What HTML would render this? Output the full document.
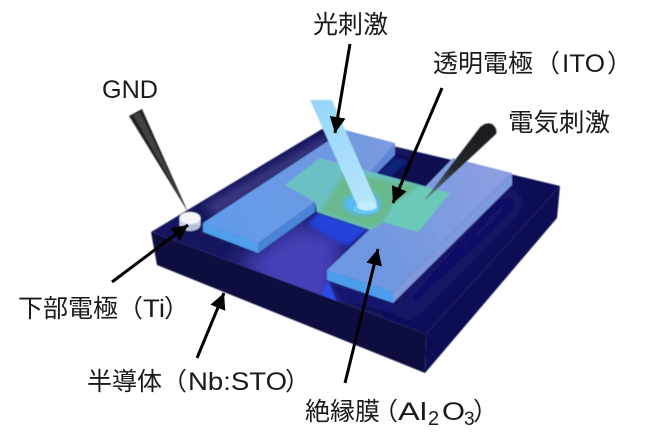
<!DOCTYPE html>
<html><head><meta charset="utf-8"><style>
html,body{margin:0;padding:0;background:#fff;width:650px;height:445px;overflow:hidden}
svg{display:block}
text{font-family:"Noto Sans CJK JP","Liberation Sans",sans-serif;font-size:25px;fill:#1a1a1a}
text.l{font-family:"Liberation Sans",sans-serif}
</style></head><body>
<svg width="650" height="445" viewBox="0 0 650 445" xmlns="http://www.w3.org/2000/svg">
<defs>
<linearGradient id="film" x1="220" y1="260" x2="480" y2="130" gradientUnits="userSpaceOnUse">
<stop offset="0" stop-color="#609ceb"/><stop offset=".55" stop-color="#7298e0"/><stop offset="1" stop-color="#8c9fe0"/></linearGradient>
<linearGradient id="beam" x1="320" y1="100" x2="368" y2="206" gradientUnits="userSpaceOnUse">
<stop offset="0" stop-color="#98d6f9"/><stop offset="1" stop-color="#b6e5fd"/></linearGradient>
<linearGradient id="probe" x1="490" y1="128" x2="423" y2="202" gradientUnits="userSpaceOnUse">
<stop offset="0" stop-color="#1a1a1e"/><stop offset=".55" stop-color="#26282e"/><stop offset="1" stop-color="#62899a"/></linearGradient>
<linearGradient id="sub" x1="160" y1="200" x2="540" y2="260" gradientUnits="userSpaceOnUse">
<stop offset="0" stop-color="#191960"/><stop offset=".5" stop-color="#14145e"/><stop offset="1" stop-color="#0c0c54"/></linearGradient>
<clipPath id="topclip"><polygon points="151,232 322,129 560,186 426,334"/></clipPath>
<filter id="b1" filterUnits="userSpaceOnUse" x="0" y="0" width="650" height="445"><feGaussianBlur stdDeviation=".5"/></filter>
<filter id="b2" filterUnits="userSpaceOnUse" x="0" y="0" width="650" height="445"><feGaussianBlur stdDeviation="2"/></filter>
<filter id="b4" filterUnits="userSpaceOnUse" x="0" y="0" width="650" height="445"><feGaussianBlur stdDeviation="4"/></filter>
<filter id="b8" filterUnits="userSpaceOnUse" x="0" y="0" width="650" height="445"><feGaussianBlur stdDeviation="10"/></filter>
<marker id="ah" markerUnits="userSpaceOnUse" markerWidth="18" markerHeight="16" refX="16" refY="8" orient="auto"><path d="M0 0L16 8L0 16Z" fill="#000"/></marker>
</defs>

<g filter="url(#b1)">
<!-- substrate -->
<polygon points="151,232 426,334 425,373 157,265" fill="#07073f"/>
<polygon points="426,334 560,186 557,218 425,373" fill="#0c0c52"/>
<polygon points="151,232 322,129 560,186 426,334" fill="url(#sub)"/>
<g clip-path="url(#topclip)">
<polygon points="205,205 320,138 335,140 215,218" fill="#38347e" filter="url(#b4)"/>
<polygon points="235,265 295,222 345,232 335,312 290,305" fill="#4440b8" filter="url(#b8)"/>
<polygon points="395,155 453,158 425,187 372,174" fill="#0a0a50"/>
<polygon points="374,176 395,157 410,160 390,178" fill="#10207a" filter="url(#b2)"/>
<polygon points="505,190 395,305 405,322 525,200" fill="#121370" filter="url(#b8)"/>
<polygon points="318,212 370,229 348,246 330,238 308,224" fill="#2442dc" filter="url(#b2)"/>
<polygon points="327,280 393,303 398,313 338,298" fill="#181870" filter="url(#b2)"/>
<polygon points="321,296 328,281 337,302" fill="#2a4eea" filter="url(#b1)"/>
</g>
<!-- film edges -->
<polygon points="203,223 258,243 258,253 203,232" fill="#4f9fec"/>
<polygon points="258,243 315,202 315,212 258,253" fill="#4a84d6"/>
<polygon points="327,270 393,292 393,303 327,280" fill="#4d9ded"/>
<polygon points="393,292 512,173 512,185 393,303" fill="#7e99de"/>
<polygon points="370,173 395,143 395,155 374,176" fill="#5d86d8"/>
<!-- film -->
<polygon points="203,223 345,130 395,143 370,173 425,187 453,158 512,173 393,292 327,270 370,229 315,202 258,243" fill="url(#film)"/>
<!-- ITO -->
<polygon points="285,185 320,158 450,193 418,232 382,222 371,230 317,212 315,202" fill="#6cc0c4"/>
<polygon points="345,172 420,186 394,206 380,224 370,228 320,211 330,197" fill="#67b98c" filter="url(#b2)"/>
<polygon points="394,204 420,186 450,193 418,232 384,222" fill="#6ac9b8"/>
<!-- glow -->
<ellipse cx="362" cy="204" rx="19" ry="11" fill="#58b8f0" filter="url(#b2)"/>
<ellipse cx="366" cy="209" rx="13" ry="5" fill="#66c8fb"/>
<!-- beam -->
<polygon points="310,100 332,100 377,203 358,207" fill="url(#beam)"/>
<ellipse cx="367" cy="206" rx="10" ry="4.5" fill="#c2edff"/>
<!-- Ti disc -->
<ellipse cx="190" cy="225" rx="10.5" ry="6" fill="#b6bfd8"/>
<rect x="179.5" y="218" width="21" height="7" fill="#c8cfe0"/>
<ellipse cx="190" cy="218" rx="10.5" ry="6" fill="#f5f5f7"/>
<!-- GND probe -->
<polygon points="129,116 142,109 188,212" fill="#202024"/>
<polygon points="133,115 140,112 186,208" fill="#55555a" opacity=".6"/>
<!-- right probe -->
<polygon points="423,202 481,126 496,134" fill="url(#probe)"/>
<path d="M481,127 Q485,122 492,124 Q498,129 496,134 Z" fill="#1d1d20"/>
</g>

<!-- arrows -->
<g stroke="#000" stroke-width="3" fill="none" marker-end="url(#ah)">
<line x1="350" y1="44" x2="335" y2="133"/>
<line x1="442" y1="88" x2="393" y2="203"/>
<line x1="112" y1="282" x2="188" y2="225"/>
<line x1="197" y1="358" x2="224" y2="293"/>
<line x1="345" y1="383" x2="378" y2="249"/>
</g>

<!-- labels -->
<text x="313" y="33">光刺激</text>
<text x="433" y="72">透明電極</text><text x="535" y="72">（</text>
<text class="l" x="562" y="72" textLength="43" lengthAdjust="spacingAndGlyphs">ITO</text><text x="607" y="72">）</text>
<text x="508" y="131" textLength="102" lengthAdjust="spacingAndGlyphs">電気刺激</text>
<text class="l" x="102" y="98" textLength="56" lengthAdjust="spacingAndGlyphs">GND</text>
<text x="18" y="317">下部電極</text><text x="118" y="317">（</text>
<text class="l" x="143" y="317" textLength="22" lengthAdjust="spacingAndGlyphs">Ti</text><text x="164" y="317">）</text>
<text x="87" y="390">半導体</text><text x="162" y="390">（</text>
<text class="l" x="188" y="390" textLength="99" lengthAdjust="spacingAndGlyphs">Nb:STO</text><text x="285" y="390">）</text>
<text x="305" y="420">絶縁膜</text><text x="373" y="420">（</text>
<text class="l" x="398" y="420" textLength="29" lengthAdjust="spacingAndGlyphs">Al</text>
<text class="l" x="428" y="425" style="font-size:20px">2</text>
<text class="l" x="442" y="420" textLength="23" lengthAdjust="spacingAndGlyphs">O</text>
<text class="l" x="464" y="425" style="font-size:19px">3</text>
<text x="473" y="420">）</text>
</svg>
</body></html>
